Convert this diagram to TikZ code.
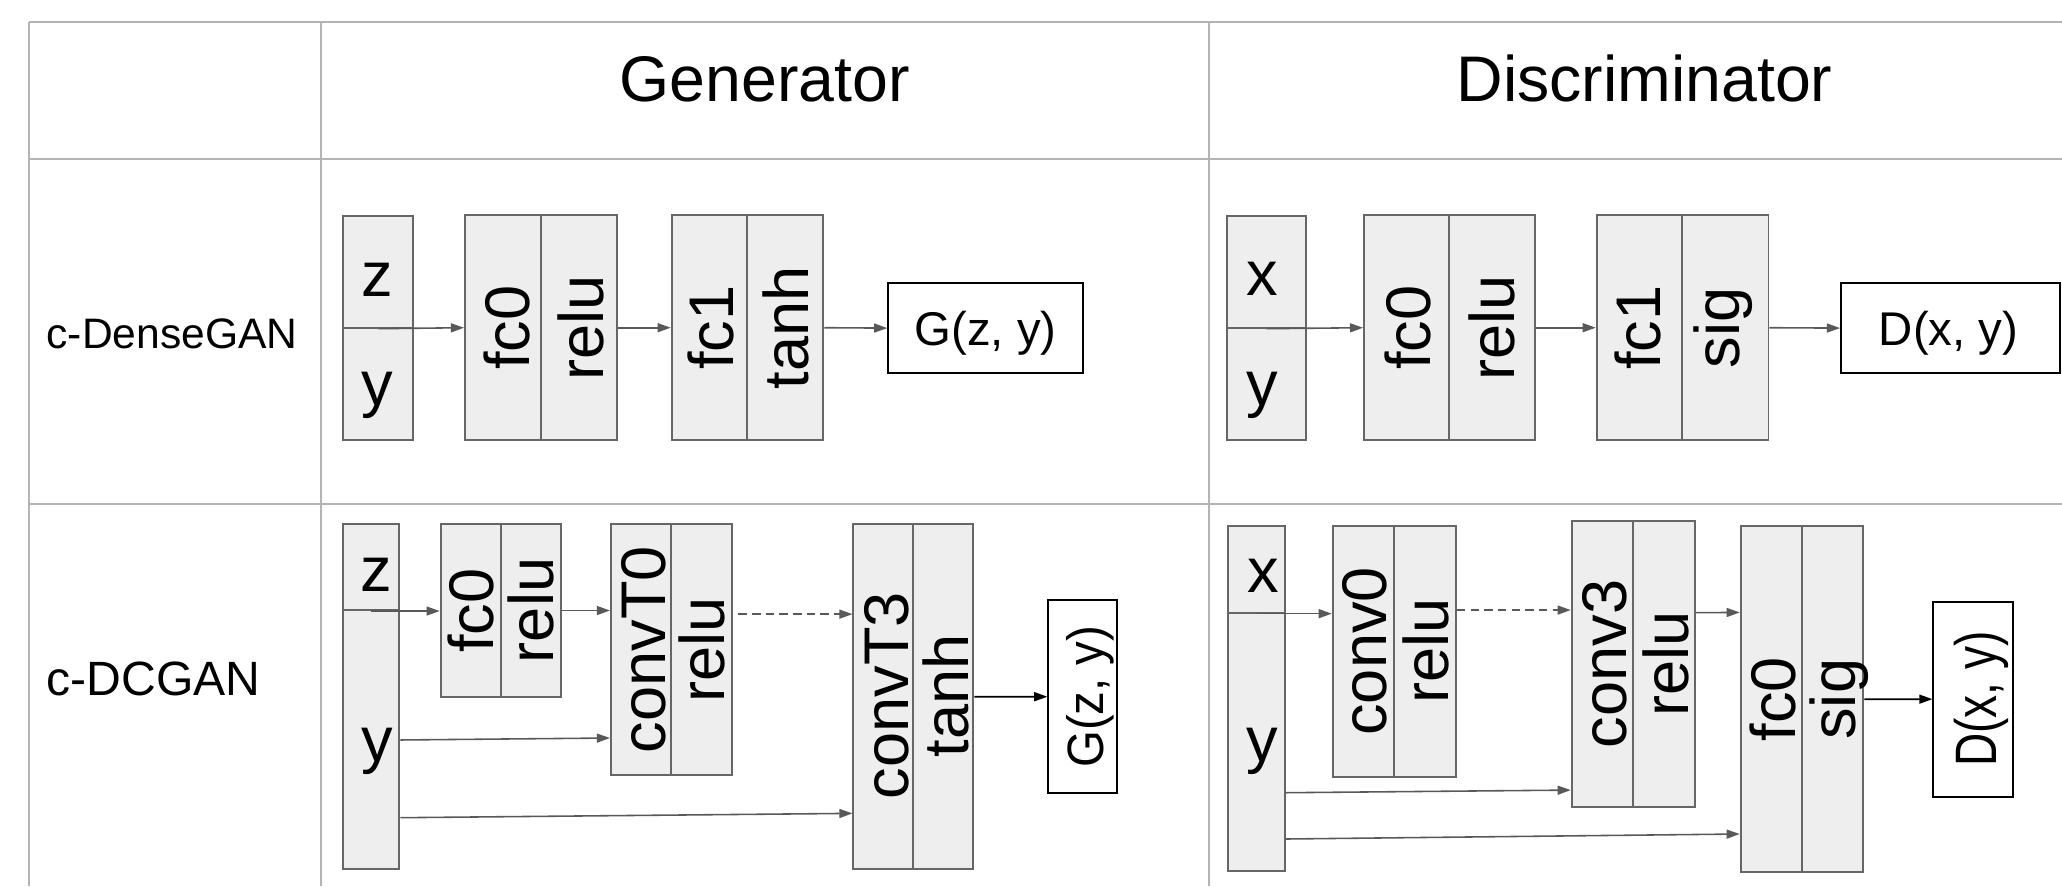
\documentclass[tikz,border=0pt]{standalone}
\usepackage{fontspec}
\setmainfont{Liberation Sans}
\usetikzlibrary{arrows.meta,fit}
\definecolor{tline}{HTML}{B4B4B4}
\definecolor{bline}{HTML}{666666}
\definecolor{bfill}{HTML}{EEEEEE}
\definecolor{aline}{HTML}{595959}
\begin{document}
\begin{tikzpicture}[x=0.5pt,y=-0.5pt,
 tbl/.style={draw=tline, line width=0.75pt},
 blk/.style={draw=bline, fill=bfill, line width=0.75pt, inner sep=0pt},
 outb/.style={draw=black, fill=white, line width=0.75pt, inner sep=0pt},
 lbl/.style={inner sep=0pt, anchor=base, font=\fontsize{24}{24}\selectfont},
 rlbl/.style={lbl, rotate=90},
 arr/.style={draw=aline, line width=0.6pt, -{Triangle[length=5pt,width=3.4pt]}},
 darr/.style={arr, dash pattern=on 3.2pt off 2pt},
 barr/.style={draw=black, line width=0.65pt, -{Triangle[length=5pt,width=3.4pt]}},
 sm/.style={font=\fontsize{18}{18}\selectfont},
]
\useasboundingbox (0,0) rectangle (1568,674);
\fill[white] (0,0) rectangle (1568,674);

% table
\draw[tbl] (22,17) -- (1568,17);
\draw[tbl] (22,121) -- (1568,121);
\draw[tbl] (22,383) -- (1568,383);
\draw[tbl] (22,17) -- (22,674);
\draw[tbl] (244,17) -- (244,674);
\draw[tbl] (919,17) -- (919,674);

\node[lbl, font=\fontsize{24.5}{24.5}\selectfont] (hg) at (581.5,77) {Generator};
\node[lbl, font=\fontsize{24.5}{24.5}\selectfont] (hd) at (1250.5,77) {Discriminator};
\node[lbl, anchor=base west, font=\fontsize{16.2}{16.2}\selectfont] (r1) at (35,265) {c-DenseGAN};
\node[lbl, anchor=base west, font=\fontsize{18.3}{18.3}\selectfont] (r2) at (35,529) {c-DCGAN};

% ---------- row 1 generator
\node[blk, fit={(261,164.3) (314.3,249.2)}] (z1) {};
\node[blk, fit={(261,249.2) (314.3,334.6)}] (y1) {};
\node[blk, fit={(353.6,163.8) (411.4,334.6)}] (fc0a) {};
\node[blk, fit={(411.4,163.8) (469.5,334.6)}] (relua) {};
\node[blk, fit={(510.8,163.8) (568.3,334.6)}] (fc1a) {};
\node[blk, fit={(568.3,163.8) (626.1,334.6)}] (tanha) {};
\node[outb, fit={(675.5,215) (823.3,284)}] (G1) {};
\node[lbl] (tz1) at (287,225.6) {z};
\node[lbl] (ty1) at (287,308) {y};
\node[rlbl] (tfc0a) at (403,249.2) {fc0};
\node[rlbl] (trelua) at (458.7,249.2) {relu};
\node[rlbl] (tfc1a) at (557.7,249.2) {fc1};
\node[rlbl] (ttanha) at (614.7,249.2) {tanh};
\node[lbl, sm] (tG1) at (749.4,262.4) {G(z, y)};
\draw[arr] (z1.south) -- (fc0a.west);
\draw[arr] (relua.east) -- (fc1a.west);
\draw[arr] (tanha.east) -- (G1.west);

% ---------- row 1 discriminator
\node[blk, fit={(932.8,164.3) (993.2,249.2)}] (x1) {};
\node[blk, fit={(932.8,249.2) (993.2,334.6)}] (yd1) {};
\node[blk, fit={(1037.3,163.8) (1102,334.6)}] (fc0b) {};
\node[blk, fit={(1102,163.8) (1167.3,334.6)}] (relub) {};
\node[blk, fit={(1214.2,163.8) (1279.3,334.6)}] (fc1b) {};
\node[blk, fit={(1279.3,163.8) (1344.8,334.6)}] (sigb) {};
\node[outb, fit={(1400,215) (1566.5,284)}] (D1) {};
\node[lbl] (tx1) at (960,225) {x};
\node[lbl] (tyd1) at (960,308) {y};
\node[rlbl] (tfc0b) at (1087.5,249.2) {fc0};
\node[rlbl] (trelub) at (1152,249.2) {relu};
\node[rlbl] (tfc1b) at (1262.4,249.2) {fc1};
\node[rlbl] (tsigb) at (1322.4,249.2) {sig};
\node[lbl, sm] (tD1) at (1481.7,262.4) {D(x, y)};
\draw[arr] (x1.south) -- (fc0b.west);
\draw[arr] (relub.east) -- (fc1b.west);
\draw[arr] (sigb.east) -- (D1.west);

% ---------- row 2 generator
\node[blk, fit={(261,398.7) (303.7,463.9)}] (z2) {};
\node[blk, fit={(261,463.9) (303.7,660.8)}] (y2) {};
\node[blk, fit={(335.1,398.7) (381,529.8)}] (fc0c) {};
\node[blk, fit={(381,398.7) (426.6,529.8)}] (reluc) {};
\node[blk, fit={(464.6,398.7) (510.3,589.4)}] (cT0) {};
\node[blk, fit={(510.3,398.7) (556.4,589.4)}] (relucT) {};
\node[blk, fit={(649,398.7) (694.6,660.8)}] (cT3) {};
\node[blk, fit={(694.6,398.7) (740.2,660.8)}] (tanhc) {};
\node[outb, fit={(797.2,456.3) (849.7,603.3)}] (G2) {};
\node[lbl] (tz2) at (286.5,450) {z};
\node[lbl] (ty2) at (287,579) {y};
\node[rlbl] (tfc0c) at (375.2,464.2) {fc0};
\node[rlbl] (treluc) at (420.8,464.2) {relu};
\node[rlbl] (tcT0) at (505.7,494) {convT0};
\node[rlbl] (trelucT) at (551.3,494) {relu};
\node[rlbl] (tcT3) at (690.7,529) {convT3};
\node[rlbl] (ttanhc) at (736.4,529) {tanh};
\node[rlbl, sm, yscale=1.08] (tG2) at (839,529.8) {G(z, y)};
\coordinate (ds1) at (561.5,467);
\draw[arr] (z2.south) -- (fc0c.west |- z2.south);
\draw[arr] (reluc.east) -- (cT0.west |- reluc.east);
\draw[darr] (ds1) -- (cT3.west |- ds1);
\draw[arr] (y2.east |- 0,562.7) -- (cT0.west |- 0,561.2);
\draw[arr] (y2.east |- 0,621.8) -- (cT3.west |- 0,618.5);
\draw[barr] (tanhc.east) -- (G2.west);

% ---------- row 2 discriminator
\node[blk, fit={(934,400) (977.2,465.9)}] (x2) {};
\node[blk, fit={(934,465.9) (977.2,662.1)}] (yd2) {};
\node[blk, fit={(1013.5,400) (1060.3,590.6)}] (cv0) {};
\node[blk, fit={(1060.3,400) (1107.2,590.6)}] (relud) {};
\node[blk, fit={(1195.2,396.2) (1242.1,613.5)}] (cv3) {};
\node[blk, fit={(1242.1,396.2) (1289,613.5)}] (relue) {};
\node[blk, fit={(1323.7,400) (1370.4,663.4)}] (fc0d) {};
\node[blk, fit={(1370.4,400) (1417,663.4)}] (sigd) {};
\node[outb, fit={(1470.2,457.5) (1530.6,605.8)}] (D2) {};
\node[lbl] (tx2) at (960.7,450.7) {x};
\node[lbl] (tyd2) at (960,579) {y};
\node[rlbl] (tcv0) at (1054.5,495.3) {conv0};
\node[rlbl] (trelud) at (1101.4,495.3) {relu};
\node[rlbl] (tcv3) at (1237,504.9) {conv3};
\node[rlbl] (trelue) at (1283.9,504.9) {relu};
\node[rlbl] (tfc0d) at (1365,531.7) {fc0};
\node[rlbl] (tsigd) at (1410.6,531.7) {sig};
\node[rlbl, font=\fontsize{17.5}{17.5}\selectfont, yscale=1.27] (tD2) at (1518.4,531.6) {D(x, y)};
\coordinate (ds2) at (1107.8,463.9);
\draw[arr] (x2.south) -- (cv0.west |- x2.south);
\draw[darr] (ds2) -- (cv3.west |- ds2);
\draw[arr] (relue.east |- 0,465.9) -- (fc0d.west |- 0,465.7);
\draw[arr] (yd2.east |- 0,602.8) -- (cv3.west |- 0,600.8);
\draw[arr] (yd2.east |- 0,638) -- (fc0d.west |- 0,634.2);
\draw[barr] (sigd.east) -- (D2.west);
\end{tikzpicture}
\end{document}
